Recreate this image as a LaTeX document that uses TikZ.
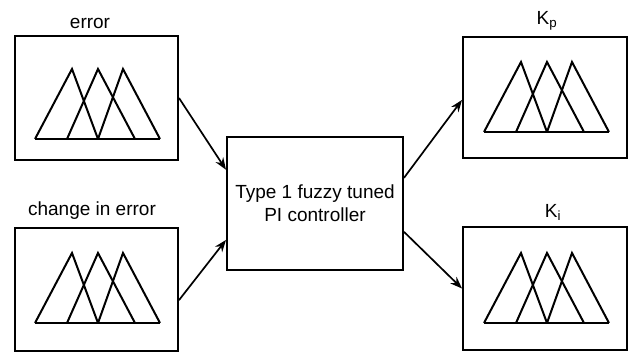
\documentclass[tikz,border=0pt]{standalone}
\usepackage{fontspec}
\setmainfont{Liberation Sans}
\usetikzlibrary{arrows.meta,calc}
\tikzset{
  box/.style={draw, line width=2pt, inner sep=0pt},
  lbl/.style={font=\fontsize{19}{23}\selectfont, anchor=base, inner sep=0pt},
  conn/.style={line width=1.7pt, -{Stealth[length=12pt,width=9pt]}},
  mfs/.pic={
    \draw[line width=2pt] (0,0) -- (125,0);
    \draw[line width=2pt] (0,0) -- (37,-70) -- (63,0);
    \draw[line width=2pt] (32,0) -- (63,-70) -- (100,0);
    \draw[line width=2pt] (63,0) -- (88,-70) -- (125,0);
  }
}
\begin{document}
\begin{tikzpicture}[x=1pt,y=-1pt]
\useasboundingbox (0,0) rectangle (630,353);
% boxes
\node[box, minimum width=163pt, minimum height=124pt] (err) at (96.5,98) {};
\node[box, minimum width=163pt, minimum height=123pt] (cib) at (96.5,289.5) {};
\node[box, minimum width=176pt, minimum height=133pt, align=center,
      font=\fontsize{19}{23}\selectfont] (ctrl) at (315,203.5)
      {Type 1 fuzzy tuned\\PI controller};
\node[box, minimum width=164pt, minimum height=121pt] (kp) at (545,97.5) {};
\node[box, minimum width=164pt, minimum height=123pt] (ki) at (545,288.5) {};
% labels
\node[lbl] (lerr) at (90,29) {error};
\node[lbl] (lcib) at (92,215) {change in error};
\node[lbl] (lkp) at (547,25) {K\textsubscript{p}};
\node[lbl] (lki) at (553,217) {K\textsubscript{i}};
% membership functions
\pic (m1) at (35,139) {mfs};
\pic (m2) at (35,323) {mfs};
\pic (m3) at (484,132) {mfs};
\pic (m4) at (484,323) {mfs};
% connectors
\draw[conn] (err.east) -- ($(ctrl.north west)!0.25!(ctrl.south west)$);
\draw[conn] ($(cib.north east)!0.585!(cib.south east)$) -- ($(ctrl.north west)!0.77!(ctrl.south west)$);
\draw[conn] ($(ctrl.north east)!0.31!(ctrl.south east)$) -- ($(kp.north west)!0.52!(kp.south west)$);
\draw[conn] ($(ctrl.north east)!0.71!(ctrl.south east)$) -- (ki.west);
\end{tikzpicture}
\end{document}
